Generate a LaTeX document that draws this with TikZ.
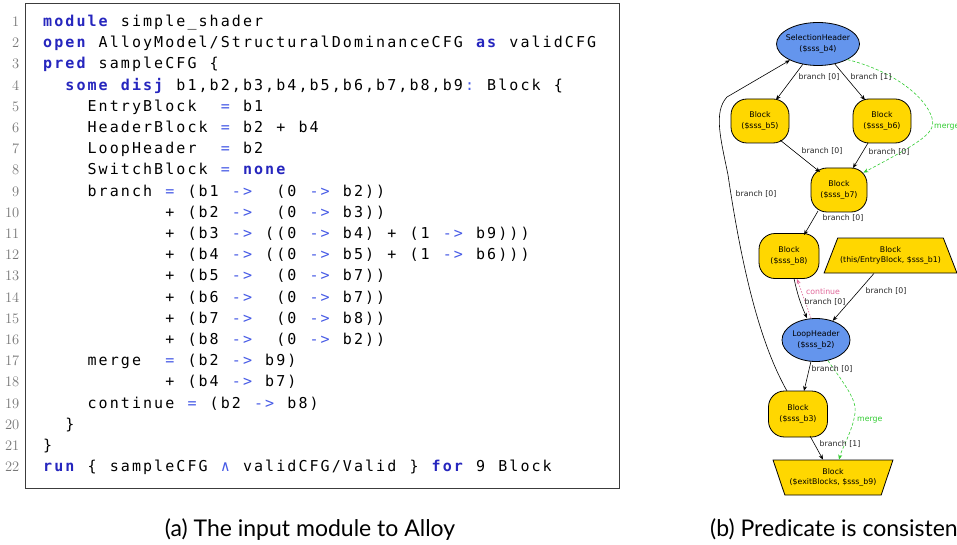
\documentclass[tikz,border=0pt]{standalone}
\usepackage{fontspec}
\setmonofont{DejaVu Sans Mono}
\newfontfamily\gfont{DejaVu Sans}
\newfontfamily\capfont{Lato}
\usetikzlibrary{shapes.geometric,arrows.meta}
\definecolor{kwblue}{RGB}{38,38,190}
\definecolor{opblue}{RGB}{70,90,230}
\definecolor{nodeyellow}{RGB}{255,215,0}
\definecolor{nodeblue}{RGB}{100,149,237}
\definecolor{mgreen}{RGB}{50,205,50}
\definecolor{cpink}{RGB}{225,105,155}
\definecolor{lngray}{RGB}{120,120,120}
\definecolor{framegray}{RGB}{60,60,60}
\newlength\cw \setlength\cw{11.1pt}
\def\fc#1{\ifx#1\relax\else\makebox[\cw][c]{#1}\expandafter\fc\fi}
\newcommand\kw[1]{{\bfseries\color{kwblue}\fc#1\relax}}
\newcommand\op[1]{{\color{opblue}\fc#1\relax}}
\newcommand\tx[1]{\fc#1\relax}
\newcommand\codeln[2]{%
  \node[codetext] (c#1) at (42,{26.5+(#1-1)*21.2}) {#2};
  \node[lnum] (n#1) at (19.5,{26.5+(#1-1)*21.2}) {#1};}
\begin{document}
\begin{tikzpicture}[x=1pt,y=-1pt,
  codetext/.style={anchor=base west, inner sep=0pt, font=\ttfamily\fontsize{15}{18}\selectfont},
  lnum/.style={anchor=base east, inner sep=0pt, text=lngray, font=\fontsize{14.5}{16}\selectfont},
  captext/.style={anchor=base, inner sep=0pt, font=\capfont\fontsize{23}{26}\selectfont},
  gtext/.style={font=\gfont\fontsize{7.8}{10.5}\selectfont, align=center, inner sep=0pt},
  yround/.style={draw=black, line width=0.8pt, fill=nodeyellow, rounded corners=16pt, inner sep=0pt},
  bellipse/.style={ellipse, draw=black, line width=0.8pt, fill=nodeblue, inner sep=0pt},
  ytrap/.style={trapezium, trapezium stretches=true, draw=black, line width=0.8pt, fill=nodeyellow, inner sep=1pt},
  edge/.style={draw=black, line width=0.6pt, -{Stealth[length=5pt,width=4pt]}},
  mergeedge/.style={draw=mgreen, line width=0.6pt, dash pattern=on 3pt off 2pt, -{Stealth[length=5pt,width=4pt]}},
  contedge/.style={draw=cpink, line width=0.6pt, dash pattern=on 1.5pt off 1.5pt, -{Stealth[length=5pt,width=4pt]}},
  elabel/.style={font=\gfont\fontsize{7.8}{9}\selectfont, inner sep=0pt, text=black!85},
]
\fill[white] (0,0) rectangle (957,545);
\useasboundingbox (0,0) rectangle (957,545);
% code box
\draw[framegray, line width=1pt] (25.5,3.5) rectangle (619.5,488);
\codeln{1}{\kw{module}\tx{~simple\_shader}}
\codeln{2}{\kw{open}\tx{~AlloyModel/StructuralDominanceCFG~}\kw{as}\tx{~validCFG}}
\codeln{3}{\kw{pred}\tx{~sampleCFG~\{}}
\codeln{4}{\tx{~~}\kw{some~disj}\tx{~b1,b2,b3,b4,b5,b6,b7,b8,b9}\op{:}\tx{~Block~\{}}
\codeln{5}{\tx{~~~~EntryBlock~~}\op{=}\tx{~b1}}
\codeln{6}{\tx{~~~~HeaderBlock~}\op{=}\tx{~b2~+~b4}}
\codeln{7}{\tx{~~~~LoopHeader~~}\op{=}\tx{~b2}}
\codeln{8}{\tx{~~~~SwitchBlock~}\op{=}\tx{~}\kw{none}}
\codeln{9}{\tx{~~~~branch~}\op{=}\tx{~(b1~}\op{->}\tx{~~(0~}\op{->}\tx{~b2))}}
\codeln{10}{\tx{~~~~~~~~~~~+~(b2~}\op{->}\tx{~~(0~}\op{->}\tx{~b3))}}
\codeln{11}{\tx{~~~~~~~~~~~+~(b3~}\op{->}\tx{~((0~}\op{->}\tx{~b4)~+~(1~}\op{->}\tx{~b9)))}}
\codeln{12}{\tx{~~~~~~~~~~~+~(b4~}\op{->}\tx{~((0~}\op{->}\tx{~b5)~+~(1~}\op{->}\tx{~b6)))}}
\codeln{13}{\tx{~~~~~~~~~~~+~(b5~}\op{->}\tx{~~(0~}\op{->}\tx{~b7))}}
\codeln{14}{\tx{~~~~~~~~~~~+~(b6~}\op{->}\tx{~~(0~}\op{->}\tx{~b7))}}
\codeln{15}{\tx{~~~~~~~~~~~+~(b7~}\op{->}\tx{~~(0~}\op{->}\tx{~b8))}}
\codeln{16}{\tx{~~~~~~~~~~~+~(b8~}\op{->}\tx{~~(0~}\op{->}\tx{~b2))}}
\codeln{17}{\tx{~~~~merge~~}\op{=}\tx{~(b2~}\op{->}\tx{~b9)}}
\codeln{18}{\tx{~~~~~~~~~~~+~(b4~}\op{->}\tx{~b7)}}
\codeln{19}{\tx{~~~~continue~}\op{=}\tx{~(b2~}\op{->}\tx{~b8)}}
\codeln{20}{\tx{~~\}}}
\codeln{21}{\tx{\}}}
\codeln{22}{\kw{run}\tx{~\{~sampleCFG~}\op{∧}\tx{~validCFG/Valid~\}~}\kw{for}\tx{~9~Block}}
% captions
\node[captext] (capa) at (310,536) {(a) The input module to Alloy};
\node[captext, anchor=base west] (capb) at (710,536) {(b) Predicate is consistent};
% graph nodes
\node[bellipse, minimum width=83pt, minimum height=43pt] (b4) at (818,44) {};
\node[gtext] (b4t) at (b4.center) {SelectionHeader\\(\$sss\_b4)};
\node[yround, minimum width=58pt, minimum height=44pt] (b5) at (760,121) {};
\node[gtext] (b5t) at (b5.center) {Block\\(\$sss\_b5)};
\node[yround, minimum width=58pt, minimum height=44pt] (b6) at (882,121) {};
\node[gtext] (b6t) at (b6.center) {Block\\(\$sss\_b6)};
\node[yround, minimum width=56pt, minimum height=44pt] (b7) at (839,190) {};
\node[gtext] (b7t) at (b7.center) {Block\\(\$sss\_b7)};
\node[yround, minimum width=60pt, minimum height=45pt] (b8) at (789,256) {};
\node[gtext] (b8t) at (b8.center) {Block\\(\$sss\_b8)};
\node[ytrap, trapezium left angle=75.6, trapezium right angle=75.6, minimum width=133pt, minimum height=35pt] (b1) at (890.5,255.5) {\phantom{xx}};
\node[gtext] (b1t) at (b1.center) {Block\\(this/EntryBlock, \$sss\_b1)};
\node[bellipse, minimum width=68pt, minimum height=43pt] (b2) at (816,340) {};
\node[gtext] (b2t) at (b2.center) {LoopHeader\\(\$sss\_b2)};
\node[yround, minimum width=59pt, minimum height=46pt] (b3) at (798,414) {};
\node[gtext] (b3t) at (b3.center) {Block\\(\$sss\_b3)};
\node[ytrap, trapezium left angle=103.7, trapezium right angle=103.7, minimum width=120pt, minimum height=35pt] (b9) at (833,477.5) {\phantom{xx}};
\node[gtext] (b9t) at (b9.center) {Block\\(\$exitBlocks, \$sss\_b9)};
% edges
\draw[edge] (b4) -- ([shift={(16,-21)}]b5.center);
\draw[edge] (b4) -- ([shift={(-17,-21)}]b6.center);
\draw[edge] ([shift={(20,19)}]b5.center) -- ([shift={(-19,-18)}]b7.center);
\draw[edge] ([shift={(-14,22)}]b6.center) -- ([shift={(14,-22)}]b7.center);
\draw[edge] ([shift={(-21,21)}]b7.center) -- ([shift={(15,-21)}]b8.center);
\draw[edge] ([shift={(5,22.5)}]b8.center) to[bend right=6] ([xshift=-9pt]b2.north);
\draw[contedge] ([xshift=-5pt]b2.north) -- ([shift={(8,23)}]b8.center);
\draw[edge] ([xshift=-16.5pt]b1.south) -- (b2);
\draw[edge] (b2) -- ([shift={(6,-23)}]b3.center);
\draw[edge] ([shift={(12,22)}]b3.center) -- ([xshift=-10pt]b9.north);
\coordinate (w1) at (728,175);
\coordinate (w4) at (727,97);
\draw[edge] ([shift={(-11,-23)}]b3.center) .. controls (765,352) and (745,290) .. (w1)
  .. controls (721,140) and (713,112) .. (w4) -- (b4.-150);
\coordinate (w2) at (932,118);
\draw[mergeedge] (b4.-28) .. controls (890,70) and (925,95) .. (w2) .. controls (936,132) and (925,140) .. ([shift={(-4,5)}]b7.north east);
\coordinate (w3) at (855,413);
\draw[mergeedge] (b2.-60) .. controls (845,385) and (857,400) .. (w3) .. controls (853,430) and (842,448) .. ([xshift=6pt]b9.north);
% edge labels
\node[elabel] (l1) at (819,77) {branch [0]};
\node[elabel] (l2) at (871,77) {branch [1]};
\node[elabel] (l3) at (822,151) {branch [0]};
\node[elabel] (l4) at (889,152) {branch [0]};
\node[elabel] (l5) at (756,194) {branch [0]};
\node[elabel] (l6) at (843,218) {branch [0]};
\node[elabel, text=cpink] (l7) at (823,292) {continue};
\node[elabel] (l8) at (886,291) {branch [0]};
\node[elabel] (l9) at (825,302) {branch [0]};
\node[elabel] (l10) at (832,369) {branch [0]};
\node[elabel, text=mgreen, anchor=west] (l11) at (857,420) {merge};
\node[elabel] (l12) at (840,444) {branch [1]};
\node[elabel, text=mgreen, anchor=west] (l13) at (934,127) {merge};
\end{tikzpicture}
\end{document}
